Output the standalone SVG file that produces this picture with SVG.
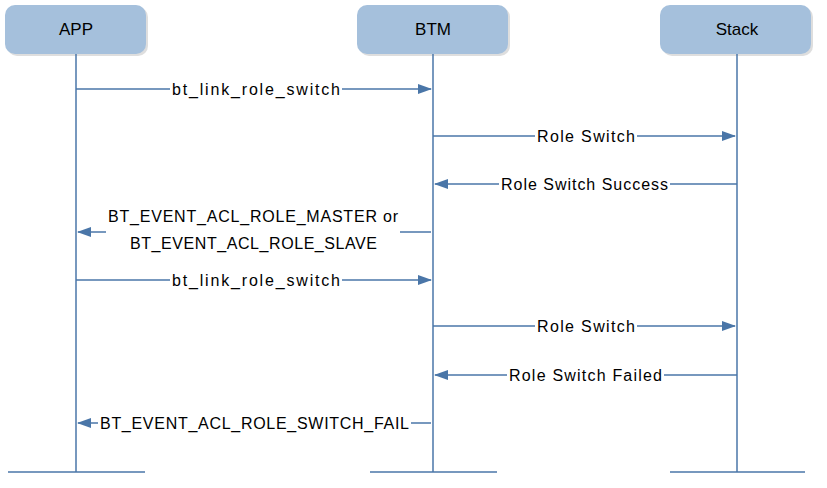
<svg xmlns="http://www.w3.org/2000/svg" width="827" height="488" viewBox="0 0 827 488">
<defs>
<style>
.box{fill:#a5c0dc;stroke:none}
.shadow{fill:#c8c8c8;opacity:0.6}
.hdr{font-family:"Liberation Sans",Arial,sans-serif;font-size:17px;fill:#000;text-anchor:middle}
.life{stroke:#4a76a8;stroke-width:1.5;fill:none}
.msg{stroke:#4a76a8;stroke-width:1.5;fill:none;marker-end:url(#ah)}
.lbl{font-family:"Liberation Sans",Arial,sans-serif;font-size:16px;fill:#000;text-anchor:middle;lengthAdjust:spacingAndGlyphs}
.bg{fill:#fff}
</style>
<marker id="ah" markerWidth="14" markerHeight="10" refX="13" refY="5" orient="auto" markerUnits="userSpaceOnUse">
<path d="M0,0 L14,5 L0,10 Z" fill="#4a76a8"/>
</marker>
</defs>
<rect width="827" height="488" fill="#fff"/>
<g id="APP">
<rect class="shadow" x="7" y="7" width="141" height="49" rx="10"/>
<rect class="box" x="5" y="5" width="141" height="49" rx="10"/>
<text class="hdr" x="76" y="35">APP</text>
<line class="life" x1="76" y1="54" x2="76" y2="472"/>
<line class="life" x1="8" y1="472" x2="145" y2="472"/>
</g>
<g id="BTM">
<rect class="shadow" x="359" y="7" width="151" height="49" rx="10"/>
<rect class="box" x="357" y="5" width="151" height="49" rx="10"/>
<text class="hdr" x="433" y="35">BTM</text>
<line class="life" x1="433" y1="54" x2="433" y2="472"/>
<line class="life" x1="370" y1="472" x2="497" y2="472"/>
</g>
<g id="Stack">
<rect class="shadow" x="662" y="7" width="151" height="49" rx="10"/>
<rect class="box" x="660" y="5" width="151" height="49" rx="10"/>
<text class="hdr" x="737" y="35">Stack</text>
<line class="life" x1="737" y1="54" x2="737" y2="472"/>
<line class="life" x1="670" y1="472" x2="805" y2="472"/>
</g>
<g id="connectors">
<line class="msg" x1="76" y1="89" x2="431" y2="89"/>
<rect class="bg" x="170" y="79" width="172" height="20"/>
<text class="lbl" x="256" y="95" textLength="168">bt_link_role_switch</text>

<line class="msg" x1="433" y1="136" x2="735" y2="136"/>
<rect class="bg" x="535" y="126" width="102" height="20"/>
<text class="lbl" x="586" y="142" textLength="98">Role Switch</text>

<line class="msg" x1="737" y1="184" x2="435" y2="184"/>
<rect class="bg" x="499" y="174" width="171" height="20"/>
<text class="lbl" x="584.5" y="190" textLength="167">Role Switch Success</text>

<line class="msg" x1="431" y1="232" x2="78" y2="232"/>
<rect class="bg" x="106" y="206" width="294" height="46"/>
<text class="lbl" x="253" y="222" textLength="290">BT_EVENT_ACL_ROLE_MASTER or</text>
<text class="lbl" x="253.5" y="249" textLength="247">BT_EVENT_ACL_ROLE_SLAVE</text>

<line class="msg" x1="76" y1="280" x2="431" y2="280"/>
<rect class="bg" x="170" y="270" width="172" height="20"/>
<text class="lbl" x="256" y="286" textLength="168">bt_link_role_switch</text>

<line class="msg" x1="433" y1="326" x2="735" y2="326"/>
<rect class="bg" x="535" y="316" width="102" height="20"/>
<text class="lbl" x="586" y="332" textLength="98">Role Switch</text>

<line class="msg" x1="737" y1="375" x2="435" y2="375"/>
<rect class="bg" x="507" y="365" width="157" height="20"/>
<text class="lbl" x="585.5" y="381" textLength="153">Role Switch Failed</text>

<line class="msg" x1="431" y1="423" x2="78" y2="423"/>
<rect class="bg" x="98" y="413" width="313" height="20"/>
<text class="lbl" x="254.5" y="429" textLength="309">BT_EVENT_ACL_ROLE_SWITCH_FAIL</text>
</g>
</svg>
